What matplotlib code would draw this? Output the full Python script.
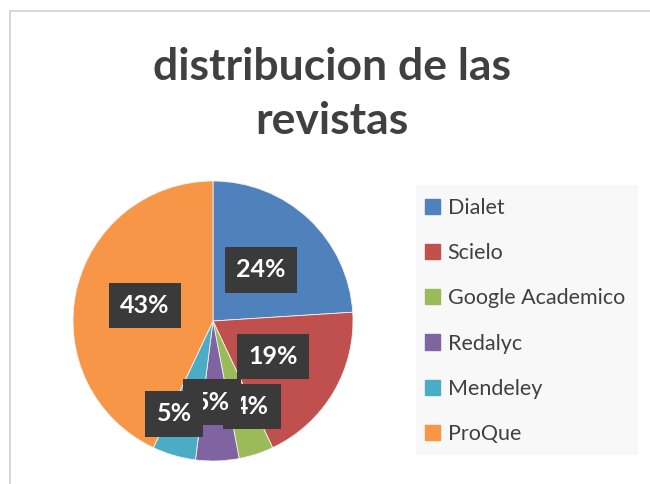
import matplotlib.pyplot as plt
import matplotlib.patches as mpatches
import numpy as np

# datos
revistas = ['Dialet', 'Scielo', 'Google Academico', 'Redalyc', 'Mendeley', 'ProQue']
porcentajes = [24, 19, 4, 5, 5, 43]
colores = ['#4F81BD', '#C0504D', '#9BBB59', '#8064A2', '#4BACC6', '#F79646']
dist_etiqueta = [0.5, 0.5, 0.67, 0.58, 0.72, 0.5]
giro_etiqueta = [0, 0, 6.5, -2.5, -6.5, 0]

fig = plt.figure(figsize=(6.5, 4.84), dpi=100)
fig.patch.set_facecolor('white')

# borde del area del grafico
fig.add_artist(plt.Line2D([10 / 650, 10 / 650], [0, 1 - 11 / 484], color='#D0D0D0', lw=1.2))
fig.add_artist(plt.Line2D([10 / 650, 1], [1 - 11 / 484, 1 - 11 / 484], color='#D0D0D0', lw=1.2))

fig.text(332 / 650, 1 - 94 / 484, 'distribucion de las\nrevistas', ha='center', va='center',
         fontsize=32, fontweight='bold', color='#404040', family='Lato', linespacing=1.45)

ax = fig.add_axes([(213 - 140) / 650, (484 - 321 - 140) / 484, 280 / 650, 280 / 484])
wedges, _ = ax.pie(porcentajes, colors=colores, startangle=90, counterclock=False,
                   wedgeprops=dict(linewidth=0.6, edgecolor='#F2F2F2'))
ax.set_xlim(-1, 1)
ax.set_ylim(-1, 1)
ax.set_aspect('equal')
ax.axis('off')

for w, p, d, g in zip(wedges, porcentajes, dist_etiqueta, giro_etiqueta):
    ang = np.deg2rad((w.theta1 + w.theta2) / 2 + g)
    ax.text(d * np.cos(ang), d * np.sin(ang), f'{p}%', ha='center', va='center',
            fontsize=18, fontweight='bold', color='white', family='Lato',
            bbox=dict(boxstyle='square,pad=0.45', facecolor='#3A3A3A', edgecolor='none'))

# leyenda con fondo gris claro
fig.add_artist(mpatches.Rectangle((416 / 650, 1 - 455 / 484), 222 / 650, 270 / 484,
                                  transform=fig.transFigure, facecolor='#F8F8F8',
                                  edgecolor='none', zorder=0))
handles = [mpatches.Patch(color=c, label=r) for c, r in zip(colores, revistas)]
leg = fig.legend(handles=handles, loc='upper left', bbox_to_anchor=(425 / 650, 1 - 198 / 484),
                 frameon=False, prop={'family': 'Lato', 'size': 15.5}, labelcolor='#404040',
                 handlelength=0.7, handleheight=0.7, handletextpad=0.35, labelspacing=1.17,
                 borderaxespad=0, borderpad=0)

fig.savefig('out.png', dpi=100)
